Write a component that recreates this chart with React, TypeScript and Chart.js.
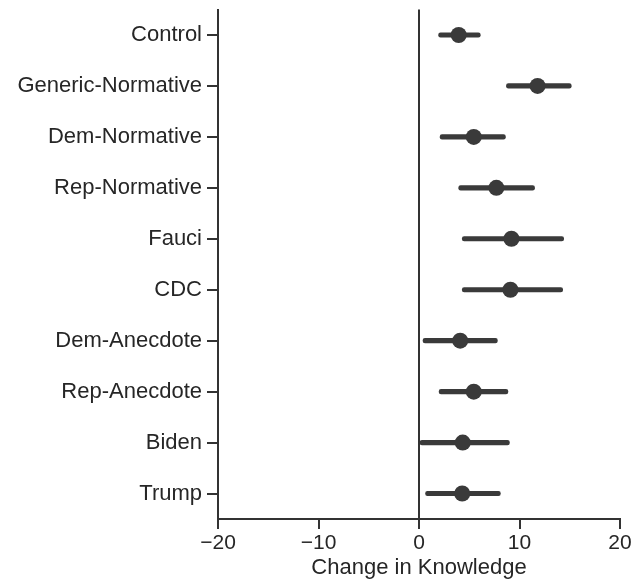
import React, { useEffect, useRef } from "react";
import { Chart, registerables } from "chart.js";

Chart.register(...registerables);

const categories = [
  "Control",
  "Generic-Normative",
  "Dem-Normative",
  "Rep-Normative",
  "Fauci",
  "CDC",
  "Dem-Anecdote",
  "Rep-Anecdote",
  "Biden",
  "Trump",
];
const means = [3.95, 11.8, 5.45, 7.7, 9.2, 9.1, 4.1, 5.45, 4.35, 4.3];
const lows = [1.95, 8.7, 2.1, 3.95, 4.3, 4.3, 0.4, 2.0, 0.1, 0.65];
const highs = [6.1, 15.15, 8.6, 11.5, 14.4, 14.3, 7.8, 8.85, 9.0, 8.1];
const xTicks = [-20, -10, 0, 10, 20];
const xTitle = "Change in Knowledge";

const INK = "#3a3a3a";
const AXIS = "#333333";
const TEXT = "#262626";
const FONT = "'Liberation Sans', Arial, sans-serif";

export default function App() {
  const ref = useRef<HTMLCanvasElement | null>(null);
  useEffect(() => {
    if (!ref.current) return;
    const chart = new Chart(ref.current, {
      type: "bar",
      data: {
        labels: categories,
        datasets: [
          {
            type: "line",
            indexAxis: "y",
            data: means,
            showLine: false,
            pointRadius: 8,
            pointHoverRadius: 8,
            pointBackgroundColor: INK,
            pointBorderWidth: 0,
            borderColor: INK,
            order: 0,
          } as any,
          {
            type: "bar",
            data: lows.map((l, i) => [l, highs[i]]),
            backgroundColor: INK,
            barThickness: 4.5,
            borderRadius: 2.25,
            borderSkipped: false,
            order: 1,
          } as any,
        ],
      },
      options: {
        indexAxis: "y",
        animation: false,
        responsive: false,
        maintainAspectRatio: false,
        layout: { padding: { top: 9.5, right: 24, left: 0, bottom: 0 } },
        plugins: { legend: { display: false }, tooltip: { enabled: false } },
        scales: {
          x: {
            type: "linear",
            min: xTicks[0],
            max: xTicks[xTicks.length - 1],
            afterBuildTicks: (s: any) => {
              s.ticks = xTicks.map((v) => ({ value: v }));
            },
            afterFit: (s: any) => {
              s.height = 62;
            },
            border: { display: true, color: AXIS, width: 2 },
            grid: {
              display: true,
              drawOnChartArea: true,
              color: (c: any) => (c.tick && c.tick.value === 0 ? AXIS : "rgba(0,0,0,0)"),
              lineWidth: 2,
              tickColor: AXIS,
              tickLength: 10,
            },
            ticks: {
              color: TEXT,
              font: { family: FONT, size: 21 },
              padding: 2,
              callback: (v: any) => String(v).replace("-", "\u2212"),
            },
            title: {
              display: true,
              text: xTitle,
              color: TEXT,
              font: { family: FONT, size: 22 },
              padding: { top: 0, bottom: 0 },
            },
          },
          y: {
            type: "category",
            offset: true,
            afterFit: (s: any) => {
              s.width = 218;
              s.paddingTop = 0;
              s.paddingBottom = 0;
            },
            border: { display: true, color: AXIS, width: 2 },
            grid: {
              display: true,
              offset: false,
              drawOnChartArea: false,
              color: AXIS,
              tickColor: AXIS,
              lineWidth: 2,
              tickLength: 11,
            },
            ticks: {
              color: TEXT,
              font: { family: FONT, size: 22 },
              padding: 5,
            },
          },
        },
      },
    });
    return () => chart.destroy();
  }, []);
  return (
    <div style={{ position: "fixed", left: 0, top: 0, width: 644, height: 581, background: "#fff" }}>
      <canvas ref={ref} width={644} height={581} style={{ width: 644, height: 581, display: "block" }} />
    </div>
  );
}
